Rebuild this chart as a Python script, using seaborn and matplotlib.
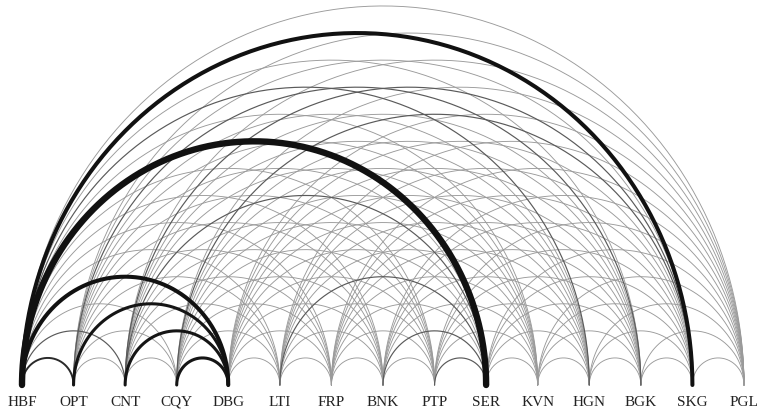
import numpy as np
import pandas as pd
import matplotlib
matplotlib.use("Agg")
import matplotlib.pyplot as plt
import seaborn as sns

nodes = ["HBF", "OPT", "CNT", "CQY", "DBG", "LTI", "FRP", "BNK", "PTP",
         "SER", "KVN", "HGN", "BGK", "SKG", "PGL"]

# strong links (source, target, weight); every other pair has weight 1
strong_src = ["HBF", "HBF", "HBF", "CNT", "OPT", "CQY", "HBF", "HBF",
              "LTI", "BNK", "PTP", "HBF", "OPT", "CQY", "CNT", "CNT"]
strong_tgt = ["SER", "SKG", "DBG", "DBG", "DBG", "DBG", "OPT", "CNT",
              "SER", "SER", "SER", "HGN", "BGK", "SKG", "SER", "SKG"]
strong_w = [7, 5, 5, 4, 4, 4, 3, 2,
            2, 2, 2, 2, 2, 2, 2, 2]

sns.set_theme(style="white")
plt.rcParams['font.family'] = ['Liberation Serif', 'DejaVu Serif']

wmap = {}
for s, t, w in zip(strong_src, strong_tgt, strong_w):
    wmap[tuple(sorted((nodes.index(s), nodes.index(t))))] = w

rows = []
theta = np.linspace(0, np.pi, 200)
eid = 0
for i in range(len(nodes)):
    for j in range(i + 1, len(nodes)):
        w = wmap.get((i, j), 1)
        c = (i + j) / 2
        r = (j - i) / 2
        xs = c + r * np.cos(theta)
        ys = 1.05 * r * np.sin(theta)
        for x, y in zip(xs, ys):
            rows.append((eid, w, x, y))
        eid += 1
df = pd.DataFrame(rows, columns=["edge", "weight", "x", "y"])

fig = plt.figure(figsize=(7.63, 4.12), dpi=100)
ax = fig.add_axes([0, 0, 1, 1])

style = {1: (0.65, "#9a9a9a"), 2: (0.85, "#5a5a5a"), 3: (1.4, "#2a2a2a"),
         4: (2.2, "#151515"), 5: (2.9, "#111111"), 7: (4.6, "#111111")}
for w in sorted(df["weight"].unique()):
    lw, col = style[w]
    sub = df[df["weight"] == w]
    sns.lineplot(data=sub, x="x", y="y", units="edge", estimator=None,
                 sort=False, color=col, linewidth=lw, ax=ax, legend=False)

sp = 51.57
ax.set_xlim(-22 / sp, (763 - 22) / sp)
ax.set_ylim(-27 / sp, 385 / sp)
for k, n in enumerate(nodes):
    ax.text(k, -21 / sp, n, ha="center", va="baseline", fontsize=11,
            color="#222222")
ax.axis("off")
fig.savefig("out.png", dpi=100)
